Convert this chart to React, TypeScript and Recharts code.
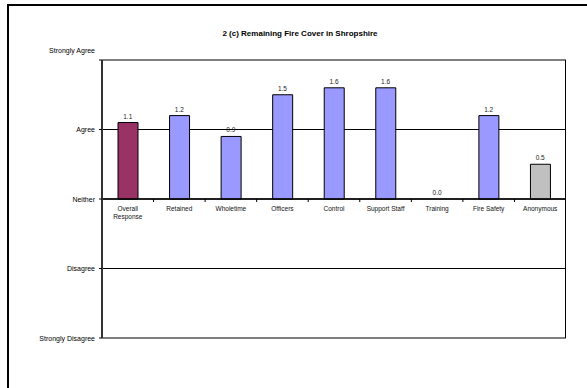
import {
  Bar,
  BarChart,
  CartesianGrid,
  Cell,
  ReferenceLine,
  XAxis,
  YAxis,
} from "recharts";

const CATEGORIES = [
  "Overall\nResponse", "Retained", "Wholetime", "Officers", "Control",
  "Support Staff", "Training", "Fire Safety", "Anonymous",
];
const SCORES = [1.1, 1.2, 0.9, 1.5, 1.6, 1.6, 0.0, 1.2, 0.5];
const BAR_COLORS = [
  "#993366", "#9999ff", "#9999ff", "#9999ff", "#9999ff",
  "#9999ff", "#9999ff", "#9999ff", "#c0c0c0",
];
const SCALE_TICKS = [-2, -1, 0, 1, 2];
const SCALE_LABELS = ["Strongly Disagree", "Disagree", "Neither", "Agree", "Strongly Agree"];

const FONT = "'Liberation Sans', Arial, sans-serif";

// categories sit on a numeric axis (0..8) so band edges are at i ± 0.5
const data = CATEGORIES.map((name, i) => ({ idx: i, name, score: SCORES[i] }));
const X_DOMAIN = [-0.5, CATEGORIES.length - 0.5];

function ScaleTick({ x, y, payload }: any) {
  const label = SCALE_LABELS[SCALE_TICKS.indexOf(payload.value)];
  // top label sits a little above its line in the original
  const shift = payload.value === 2 ? -10 : 0;
  return (
    <text x={x} y={y + shift} dy={2.5} textAnchor="end" fontSize={7} fill="#000" fontFamily={FONT}>
      {label}
    </text>
  );
}

// viewBox spans the whole category band along the zero line:
// tick at the band's left edge, name centred underneath
function categoryLabel(name: string, withTick: boolean) {
  return (props: any) => {
    const vb = props.viewBox || {};
    const left = Number(vb.x);
    const cx = left + Number(vb.width) / 2;
    const base = Number(vb.y);
    const lines = name.split("\n");
    return (
      <g>
        {withTick && <line x1={left} y1={base} x2={left} y2={base + 3} stroke="#000" strokeWidth={1} />}
        <text x={cx} y={base + 12} textAnchor="middle" fontSize={6.5} fill="#111" fontFamily={FONT}>
          {lines.map((l, i) => (
            <tspan key={i} x={cx} dy={i === 0 ? 0 : 8}>
              {l}
            </tspan>
          ))}
        </text>
      </g>
    );
  };
}

function valueLabel(v: number) {
  return (props: any) => {
    const vb = props.viewBox || {};
    return (
      <text x={Number(vb.x)} y={Number(vb.y) - 4} textAnchor="middle" fontSize={6.5} fill="#222" fontFamily={FONT}>
        {v.toFixed(1)}
      </text>
    );
  };
}

// right edge of the plot frame, taken from the chart's own layout
function rightEdge({ offset }: any) {
  return [Number(offset.left) + Number(offset.width) - 0.5];
}

export default function App() {
  return (
    <div style={{ position: "absolute", left: 0, top: 0, width: 587, height: 388, background: "#fff" }}>
      <div
        style={{
          position: "absolute",
          left: 7,
          top: 4,
          width: 580,
          height: 384,
          borderLeft: "2px solid #000",
          borderTop: "2px solid #000",
          boxSizing: "border-box",
        }}
      />
      <div
        style={{
          position: "absolute",
          left: 0,
          width: 600,
          top: 29,
          textAlign: "center",
          fontFamily: FONT,
          fontWeight: "bold",
          fontSize: 8,
          color: "#000",
        }}
      >
        2 (c) Remaining Fire Cover in Shropshire
      </div>
      <div style={{ position: "absolute", left: 0, top: 0 }}>
        <BarChart
          width={587}
          height={388}
          data={data}
          margin={{ top: 60, right: 21, left: 0, bottom: 50 }}
          barSize={20}
        >
          <CartesianGrid horizontal vertical={false} stroke="#000" strokeWidth={1} />
          <CartesianGrid
            horizontal={false}
            vertical
            verticalCoordinatesGenerator={rightEdge}
            stroke="#000"
            strokeWidth={1}
          />
          <XAxis dataKey="idx" type="number" domain={X_DOMAIN} allowDataOverflow hide />
          <YAxis
            domain={[-2, 2]}
            ticks={SCALE_TICKS}
            width={102}
            tick={<ScaleTick />}
            tickSize={3}
            tickMargin={4}
            axisLine={{ stroke: "#333", strokeWidth: 2 }}
            tickLine={{ stroke: "#000" }}
            interval={0}
          />
          <ReferenceLine y={0} stroke="#000" strokeWidth={1.3} />
          {data.map((d) => (
            <ReferenceLine
              key={"c" + d.idx}
              segment={[{ x: d.idx - 0.5, y: 0 }, { x: d.idx + 0.5, y: 0 }]}
              stroke="none"
              ifOverflow="visible"
              label={categoryLabel(d.name, d.idx > 0)}
            />
          ))}
          <Bar dataKey="score" stroke="#000" strokeWidth={1} isAnimationActive={false}>
            {data.map((_, i) => (
              <Cell key={i} fill={BAR_COLORS[i]} />
            ))}
          </Bar>
          {data.map((d) => (
            <ReferenceLine
              key={"v" + d.idx}
              segment={[{ x: d.idx, y: d.score }, { x: d.idx, y: d.score }]}
              stroke="none"
              label={valueLabel(d.score)}
            />
          ))}
        </BarChart>
      </div>
    </div>
  );
}
